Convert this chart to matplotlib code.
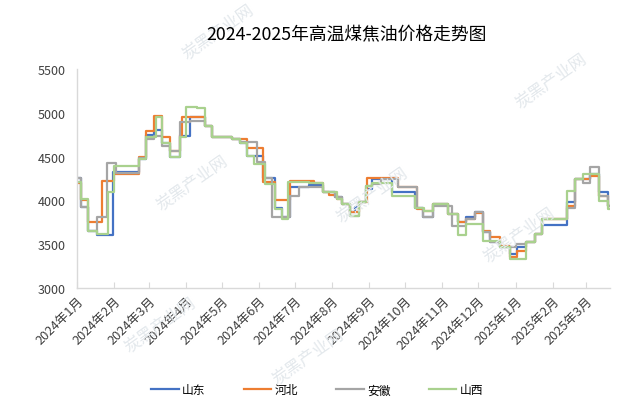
import matplotlib
matplotlib.use("Agg")
import matplotlib.pyplot as plt
import matplotlib.dates as mdates
import pandas as pd

plt.rcParams['font.family'] = ['Noto Sans CJK SC', 'DejaVu Sans']

title = "2024-2025年高温煤焦油价格走势图"
series_names = ["山东", "河北", "安徽", "山西"]
colors = ["#4472C4", "#ED7D31", "#A5A5A5", "#A9D18E"]

sd_dates = ["2024-01-01", "2024-01-04", "2024-01-10", "2024-01-18", "2024-01-31", "2024-02-22",
            "2024-02-28", "2024-03-05", "2024-03-12", "2024-03-19", "2024-03-27", "2024-04-04",
            "2024-04-17", "2024-04-23", "2024-05-09", "2024-05-16", "2024-05-22", "2024-06-04",
            "2024-06-14", "2024-06-20", "2024-06-27", "2024-07-13", "2024-07-24", "2024-08-03",
            "2024-08-09", "2024-08-16", "2024-08-20", "2024-08-23", "2024-08-29", "2024-09-03",
            "2024-09-20", "2024-10-09", "2024-10-16", "2024-10-24", "2024-11-06", "2024-11-14",
            "2024-11-21", "2024-11-28", "2024-12-05", "2024-12-11", "2024-12-19", "2024-12-27",
            "2025-01-02", "2025-01-10", "2025-01-17", "2025-01-23", "2025-02-13", "2025-02-20",
            "2025-03-04", "2025-03-12", "2025-03-19", "2025-03-21"]
sd_vals = [4250, 3920, 3650, 3600, 4320, 4470,
           4740, 4800, 4655, 4495, 4730, 4950,
           4850, 4720, 4700, 4650, 4510, 4250,
           3910, 3810, 4150, 4180, 4100, 4040,
           3960, 3870, 3930, 3980, 4130, 4240,
           4100, 3915, 3810, 3960, 3845, 3750,
           3810, 3865, 3640, 3525, 3470, 3390,
           3470, 3520, 3615, 3720, 3980, 4245,
           4300, 4095, 3940, 3940]

hb_dates = ["2024-01-01", "2024-01-04", "2024-01-10", "2024-01-22", "2024-02-01", "2024-02-22",
            "2024-02-28", "2024-03-05", "2024-03-12", "2024-03-19", "2024-03-27", "2024-03-29",
            "2024-04-17", "2024-04-23", "2024-05-09", "2024-05-22", "2024-06-04", "2024-06-14",
            "2024-06-27", "2024-07-17", "2024-07-24", "2024-07-29", "2024-08-05", "2024-08-09",
            "2024-08-16", "2024-08-23", "2024-08-30", "2024-09-25", "2024-10-11", "2024-10-16",
            "2024-10-24", "2024-11-06", "2024-11-14", "2024-11-21", "2024-11-28", "2024-12-05",
            "2024-12-11", "2024-12-19", "2024-12-27", "2025-01-02", "2025-01-10", "2025-01-17",
            "2025-01-23", "2025-02-13", "2025-02-20", "2025-03-04", "2025-03-12", "2025-03-19",
            "2025-03-21"]
hb_vals = [4200, 4000, 3750, 4220, 4300, 4500,
           4790, 4960, 4720, 4560, 4750, 4950,
           4850, 4720, 4700, 4600, 4210, 4000,
           4220, 4200, 4100, 4060, 4016, 3960,
           3865, 3980, 4250, 4150, 3900, 3880,
           3960, 3845, 3755, 3790, 3855, 3650,
           3580, 3480, 3350, 3420, 3520, 3615,
           3790, 3940, 4245, 4280, 4050, 3940,
           3940]

ah_dates = ["2024-01-01", "2024-01-04", "2024-01-10", "2024-01-18", "2024-01-26", "2024-02-03",
            "2024-02-22", "2024-02-28", "2024-03-05", "2024-03-12", "2024-03-19", "2024-03-27",
            "2024-04-04", "2024-04-17", "2024-04-23", "2024-05-09", "2024-05-16", "2024-05-30",
            "2024-06-06", "2024-06-12", "2024-06-27", "2024-07-04", "2024-07-24", "2024-08-03",
            "2024-08-09", "2024-08-16", "2024-08-23", "2024-08-29", "2024-09-03", "2024-09-11",
            "2024-09-25", "2024-10-11", "2024-10-16", "2024-10-24", "2024-11-09", "2024-11-21",
            "2024-11-28", "2024-12-05", "2024-12-11", "2024-12-19", "2025-01-01", "2025-01-10",
            "2025-01-17", "2025-01-23", "2025-02-13", "2025-02-20", "2025-02-26", "2025-03-04",
            "2025-03-12", "2025-03-19", "2025-03-21"]
ah_vals = [4256, 3925, 3650, 3810, 4430, 4310,
           4480, 4700, 4735, 4620, 4565, 4895,
           4910, 4850, 4720, 4700, 4665, 4440,
           4256, 3810, 4050, 4150, 4100, 4040,
           3960, 3820, 3980, 4165, 4190, 4245,
           4150, 3915, 3810, 3940, 3710, 3790,
           3870, 3640, 3525, 3470, 3500, 3520,
           3615, 3790, 3910, 4245, 4200, 4380,
           4050, 3940, 3940]

sx_dates = ["2024-01-01", "2024-01-04", "2024-01-10", "2024-01-18", "2024-01-27", "2024-02-01",
            "2024-02-22", "2024-02-28", "2024-03-07", "2024-03-12", "2024-03-19", "2024-03-27",
            "2024-04-01", "2024-04-10", "2024-04-17", "2024-04-23", "2024-05-09", "2024-05-16",
            "2024-05-22", "2024-05-28", "2024-06-06", "2024-06-14", "2024-06-20", "2024-06-25",
            "2024-07-13", "2024-07-24", "2024-08-05", "2024-08-09", "2024-08-16", "2024-08-23",
            "2024-08-29", "2024-09-03", "2024-09-20", "2024-10-09", "2024-10-17", "2024-10-24",
            "2024-11-06", "2024-11-14", "2024-11-21", "2024-12-05", "2024-12-19", "2024-12-27",
            "2025-01-10", "2025-01-17", "2025-01-23", "2025-02-13", "2025-02-20", "2025-02-26",
            "2025-03-12", "2025-03-19", "2025-03-21"]
sx_vals = [4210, 4016, 3650, 3617, 4100, 4390,
           4470, 4720, 4950, 4650, 4495, 4720,
           5065, 5050, 4850, 4720, 4700, 4650,
           4510, 4415, 4190, 3900, 3790, 4210,
           4200, 4100, 4016, 3960, 3820, 3980,
           4165, 4200, 4050, 3915, 3880, 3960,
           3845, 3600, 3730, 3540, 3470, 3330,
           3520, 3615, 3790, 4110, 4245, 4300,
           3990, 3900, 3900]

all_dates = [sd_dates, hb_dates, ah_dates, sx_dates]
all_vals = [sd_vals, hb_vals, ah_vals, sx_vals]

y_ticks = [3000, 3500, 4000, 4500, 5000, 5500]
x_start, x_end = "2024-01-01", "2025-03-21"
month_ticks = pd.date_range("2024-01-01", "2025-03-01", freq="MS")
month_labels = [f"{d.year}年{d.month}月" for d in month_ticks]

fig = plt.figure(figsize=(6.41, 4.06), dpi=100)
ax = fig.add_axes([0.120, 0.288, 0.832, 0.540])

for name, c, ds, vs in zip(series_names, colors, all_dates, all_vals):
    ax.step(pd.to_datetime(ds), vs, where="post", color=c, lw=1.6, label=name)

ax.set_xlim(pd.Timestamp(x_start), pd.Timestamp(x_end))
ax.set_ylim(3000, 5500)
ax.set_yticks(y_ticks)
ax.set_yticklabels([str(v) for v in y_ticks], fontsize=9, color="#404040")
ax.set_xticks(month_ticks)
ax.set_xticklabels(month_labels, rotation=45, ha="right", rotation_mode="anchor",
                   fontsize=9.2, color="#404040")
ax.tick_params(axis="y", length=0, pad=8)
ax.tick_params(axis="x", direction="in", length=4, color="#d9d9d9", pad=4)
for s in ["top", "right"]:
    ax.spines[s].set_visible(False)
for s in ["left", "bottom"]:
    ax.spines[s].set_color("#d9d9d9")
    ax.spines[s].set_linewidth(1.0)

fig.text(0.54, 0.912, title, ha="center", va="center", fontsize=12.8, color="#000000")

leg = fig.legend(loc="center", bbox_to_anchor=(0.495, 0.037), ncol=4, frameon=False,
                 fontsize=8.5, handlelength=2.3, columnspacing=3.25, handletextpad=0.3)

# faint watermarks
wm = "炭黑产业网"
for (x, y) in [(0.34, 0.92), (0.30, 0.55), (0.58, 0.52), (0.86, 0.80), (0.81, 0.42),
               (0.25, 0.20), (0.48, 0.12)]:
    fig.text(x, y, wm, rotation=35, fontsize=12, color="#e3e8ec", ha="center",
             va="center", zorder=0)

fig.savefig("out.png", dpi=100)
